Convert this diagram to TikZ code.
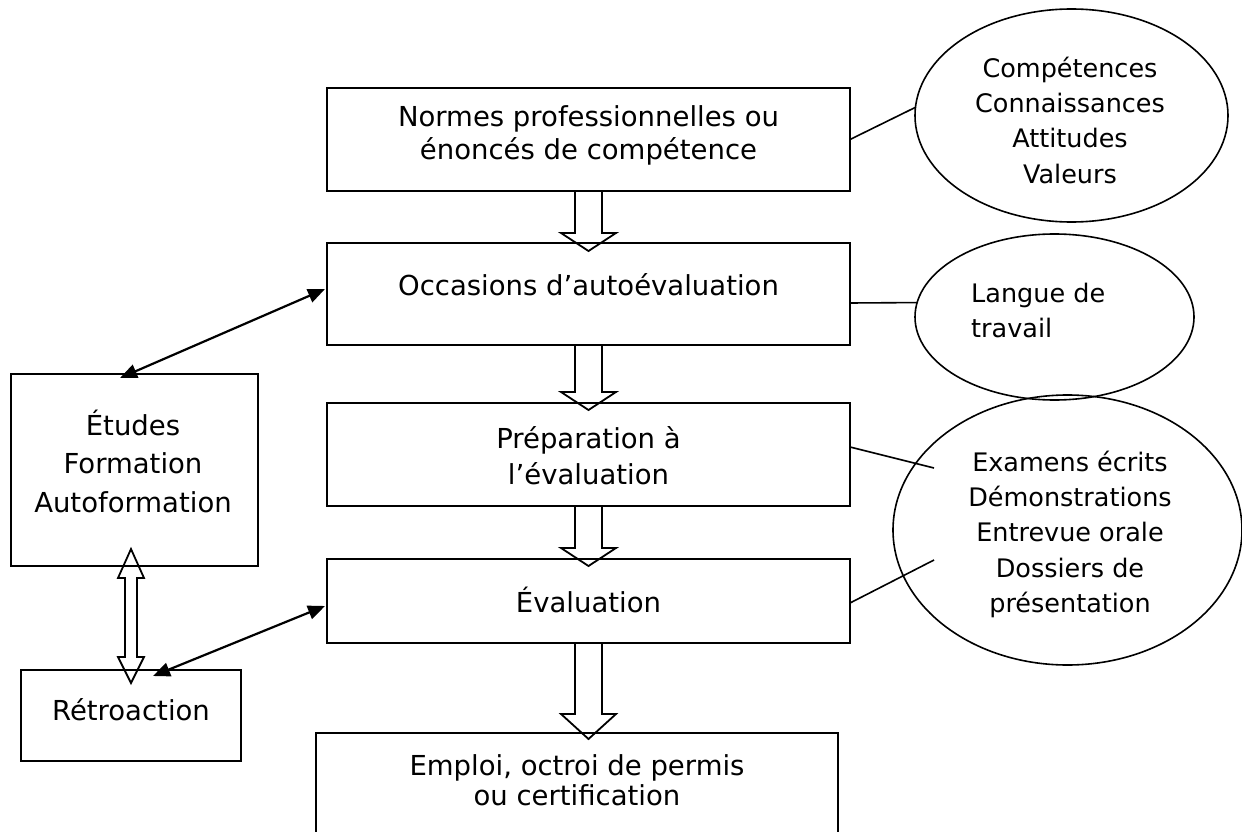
\documentclass[tikz,border=0pt]{standalone}
\usepackage{fontspec}
\setmainfont{DejaVu Sans}
\usetikzlibrary{shapes.geometric,arrows.meta,calc}
\tikzset{
  boxnode/.style={draw, line width=2pt, inner sep=0pt, outer sep=0pt},
  ell/.style={draw, ellipse, line width=1.6pt, inner sep=0pt, outer sep=0pt},
  txt/.style={anchor=base, inner sep=0pt, font=\fontsize{27.5}{33}\selectfont},
  etxt/.style={anchor=base, inner sep=0pt, font=\fontsize{25.5}{30}\selectfont},
  conn/.style={line width=1.6pt},
  dblarrow/.style={line width=2.2pt, {Triangle[length=17pt,width=14pt]}-{Triangle[length=17pt,width=14pt]}},
  hollowstyle/.style={draw, line width=1.8pt, line join=miter}
}
\newcommand{\hollowdown}[3]{% #1 source anchor, #2 tip point, #3 head length
  \draw[hollowstyle] let \p1=(#1), \p2=(#2) in
   (\x1-13.5pt,\y1) -- (\x1-13.5pt,\y2+#3) -- (\x1-27.5pt,\y2+#3) -- (\x1,\y2)
   -- (\x1+27.5pt,\y2+#3) -- (\x1+13.5pt,\y2+#3) -- (\x1+13.5pt,\y1);}
\begin{document}
\begin{tikzpicture}[x=1pt,y=-1pt]
\useasboundingbox (0,0) rectangle (1242,832);
\fill[white] (0,0) rectangle (1242,832);
\clip (0,0) rectangle (1242,832);

% main column boxes
\node[boxnode, minimum width=523pt, minimum height=103pt] (b1) at (588.5,139.5) {};
\node[boxnode, minimum width=523pt, minimum height=102pt] (b2) at (588.5,294) {};
\node[boxnode, minimum width=523pt, minimum height=103pt] (b3) at (588.5,454.5) {};
\node[boxnode, minimum width=523pt, minimum height=84pt] (b4) at (588.5,601) {};
\node[boxnode, minimum width=522pt, minimum height=147pt] (b5) at (577,806.5) {};
% left boxes
\node[boxnode, minimum width=247pt, minimum height=192pt] (etu) at (134.5,470) {};
\node[boxnode, minimum width=220pt, minimum height=91pt] (ret) at (131,715.5) {};
% ellipses
\node[ell, minimum width=313pt, minimum height=213pt] (e1) at (1071.5,115.5) {};
\node[ell, minimum width=279pt, minimum height=166pt] (e2) at (1054.5,317) {};
\node[ell, minimum width=349pt, minimum height=270pt] (e3) at (1067.5,530) {};

% texts in boxes
\node[txt] (t1a) at (588.5,127) {Normes professionnelles ou};
\node[txt] (t1b) at (588.5,159.5) {énoncés de compétence};
\node[txt] (t2) at (588.5,295) {Occasions d’autoévaluation};
\node[txt] (t3a) at (588.5,448) {Préparation à};
\node[txt] (t3b) at (588.5,484) {l’évaluation};
\node[txt] (t4) at (588.5,612) {Évaluation};
\node[txt] (t5a) at (577,775) {Emploi, octroi de permis};
\node[txt] (t5b) at (577,805) {ou certification};
\node[txt] (te1) at (133,435) {Études};
\node[txt] (te2) at (133,473) {Formation};
\node[txt] (te3) at (133,512) {Autoformation};
\node[txt] (tr) at (131,720) {Rétroaction};
% texts in ellipses
\node[etxt] (u1) at (1070,78) {Compétences};
\node[etxt] (u2) at (1070,113) {Connaissances};
\node[etxt] (u3) at (1070,148) {Attitudes};
\node[etxt] (u4) at (1070,183) {Valeurs};
\node[etxt, anchor=base west] (v1) at (971,302) {Langue de};
\node[etxt, anchor=base west] (v2) at (971,337) {travail};
\node[etxt] (w1) at (1070,471) {Examens écrits};
\node[etxt] (w2) at (1070,506) {Démonstrations};
\node[etxt] (w3) at (1070,541) {Entrevue orale};
\node[etxt] (w4) at (1070,577) {Dossiers de};
\node[etxt] (w5) at (1070,612) {présentation};

% hollow arrows
\hollowdown{b1.south}{[yshift=-8pt]b2.north}{18pt}
\hollowdown{b2.south}{[yshift=-7pt]b3.north}{18pt}
\hollowdown{b3.south}{[yshift=-7pt]b4.north}{18pt}
\hollowdown{b4.south}{[yshift=-6pt]b5.north}{25pt}

% double hollow arrow between Etudes and Retroaction
\draw[hollowstyle] let \p1=([yshift=17pt]etu.south), \p2=([yshift=-13pt]ret.north) in
  (\x2,\y1) -- (\x2+13pt,\y1-29pt) -- (\x2+6pt,\y1-29pt) -- (\x2+6pt,\y2+26pt)
  -- (\x2+13pt,\y2+26pt) -- (\x2,\y2) -- (\x2-13pt,\y2+26pt) -- (\x2-6pt,\y2+26pt)
  -- (\x2-6pt,\y1-29pt) -- (\x2-13pt,\y1-29pt) -- cycle;

% black double arrows
\draw[dblarrow] ([xshift=-14.5pt,yshift=-4pt]etu.north) -- ([xshift=-2pt,yshift=5pt]b2.west);
\draw[dblarrow] ([xshift=22pt,yshift=-6pt]ret.north) -- ([xshift=-2pt,yshift=-5pt]b4.west);

% connectors to ellipses
\coordinate (c3) at (934,468);
\coordinate (c4) at (934,560);
\draw[conn] (b1.east) -- (e1.177);
\draw[conn] ([yshift=-9pt]b2.east) -- (e2.174);
\draw[conn] ([yshift=7.5pt]b3.east) -- (c3);
\draw[conn] ([yshift=-2pt]b4.east) -- (c4);
\end{tikzpicture}
\end{document}
